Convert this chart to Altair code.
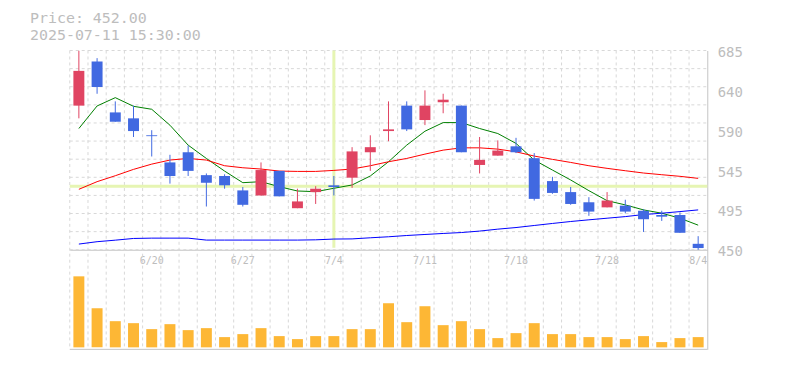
import altair as alt
import pandas as pd
import numpy as np

# ---------------- data ----------------
dates = ["6/16", "6/17", "6/18", "6/19", "6/20", "6/23", "6/24", "6/25", "6/26", "6/27",
         "6/30", "7/1", "7/2", "7/3", "7/4", "7/7", "7/8", "7/9", "7/10", "7/11",
         "7/14", "7/15", "7/16", "7/17", "7/18", "7/22", "7/23", "7/24", "7/25", "7/28",
         "7/29", "7/30", "7/31", "8/1", "8/4"]
opens = [620, 672, 612, 605, 585, 553, 565, 538, 537, 520,
         514, 543, 499, 518, 526, 535, 565, 590, 620, 603,
         624, 620, 550, 561, 572, 558, 531, 518, 506, 500,
         502, 496, 491, 491, 457]
highs = [685, 676, 625, 620, 591, 562, 573, 540, 539, 524,
         553, 543, 522, 525, 537, 571, 585, 625, 625, 638,
         634, 620, 583, 579, 582, 564, 536, 524, 512, 518,
         509, 498, 496, 494, 466]
lows = [605, 634, 601, 583, 560, 528, 537, 501, 522, 501,
        514, 513, 499, 504, 514, 523, 543, 578, 590, 597,
        611, 565, 540, 561, 564, 508, 516, 503, 490, 500,
        493, 471, 484, 470, 450]
closes = [661, 642, 601, 590, 584, 537, 543, 529, 526, 503,
          544, 513, 507, 522, 524, 566, 571, 592, 592, 620,
          627, 565, 556, 567, 565, 510, 517, 504, 495, 508,
          495, 486, 489, 470, 452]
ma5 = [593, 619.6, 629.4, 619.2, 615.7, 596.9, 573.4, 557.7, 542.8, 529.1,
       530.3, 524.4, 519.3, 518.5, 522.5, 526.4, 537.0, 553.8, 573.4, 589.8,
       600.0, 600.0, 593.0, 587.1, 575.4, 555.8, 544.0, 532.3, 519.7, 507.9,
       502.9, 497.0, 493.1, 487.2, 479.0]
ma25 = [521.3, 530.3, 537.3, 544.8, 551.0, 555.8, 557.7, 555.8, 549.1, 546.7,
        545.2, 542.8, 542.4, 542.4, 543.6, 545.2, 549.1, 553.8, 557.7, 562.8,
        567.5, 570.2, 570.2, 568.7, 565.5, 560.5, 556.6, 553.0, 549.1, 546.0,
        543.2, 540.5, 538.5, 536.6, 534.2]
ma75 = [456.7, 459.5, 461.3, 463.3, 463.7, 463.7, 463.7, 461.4, 461.4, 461.4,
        461.4, 461.4, 461.4, 461.7, 462.6, 462.8, 464.1, 465.3, 466.8, 468.0,
        469.2, 470.3, 472.0, 474.3, 476.2, 478.6, 481.0, 483.3, 485.3, 487.2,
        489.1, 491.5, 493.1, 495.0, 497.0]
volume = [713, 393, 263, 243, 183, 233, 173, 193, 103, 133,
          193, 113, 83, 113, 113, 183, 183, 443, 253, 413,
          223, 263, 183, 93, 143, 243, 133, 133, 103, 103,
          83, 113, 53, 93, 103]
tick_dates = ["6/20", "6/27", "7/4", "7/11", "7/18", "7/28", "8/4"]
price_ticks = [450, 497, 544, 591, 638, 685]
header = ["Price: 452.00", "2025-07-11 15:30:00"]
cross_date = ["7/4"]
cross_price = [525]

# ---------------- tables ----------------
df = pd.DataFrame({"date": dates, "open": opens, "high": highs, "low": lows,
                   "close": closes, "volume": volume})
df["dir"] = np.where(df["close"] >= df["open"], "up", "down")
ma_df = pd.DataFrame({"date": dates, "ma5": ma5, "ma25": ma25, "ma75": ma75})
grid_df = pd.DataFrame({"v": np.linspace(price_ticks[0], price_ticks[-1], 12)})

W, H = 640, 300
PRICE_DOMAIN = [332.5, 685]
VOL_DOMAIN = [-20, 2980]
MONO = "DejaVu Sans Mono"
GRAY = "#bdbdbd"
FRAME = "#c4c4c4"
GRID = "#d8d8d8"
UP = "#e04462"
DOWN = "#4169e1"

xscale = alt.Scale(type="band", paddingInner=0, paddingOuter=0)
xaxis = alt.Axis(values=tick_dates, orient="bottom", offset=-100, domain=True,
                 domainColor=FRAME, ticks=False, grid=False, labelAngle=0,
                 labelFont=MONO, labelFontSize=10, labelColor=GRAY,
                 labelPadding=6, title=None)
yscale = alt.Scale(domain=PRICE_DOMAIN, nice=False, zero=False)
yaxis = alt.Axis(values=price_ticks, orient="right", ticks=False, grid=False,
                 domain=True, domainColor=FRAME,
                 labelExpr="format(round(datum.value/5)*5, 'd')",
                 labelFont=MONO, labelFontSize=14, labelColor=GRAY,
                 labelPadding=10, labelOffset=2, title=None)


def X(field="date:O", **kw):
    return alt.X(field, sort=dates, scale=xscale, axis=xaxis, title=None, **kw)


def Yp(field):
    return alt.Y(field, scale=yscale, axis=yaxis, title=None)


vgrid = alt.Chart(df).mark_rule(color=GRID, strokeDash=[3, 3], strokeWidth=1).encode(
    x=X(bandPosition=0), y=alt.value(0), y2=alt.value(H))
hgrid = alt.Chart(grid_df).mark_rule(color=GRID, strokeDash=[3, 3], strokeWidth=1).encode(
    y=Yp("v:Q"), x=alt.value(0), x2=alt.value(W))
cross_v = alt.Chart(pd.DataFrame({"date": cross_date})).mark_rule(
    color="#e6f5b3", strokeWidth=3).encode(x=X(), y=alt.value(0), y2=alt.value(198))
cross_h = alt.Chart(pd.DataFrame({"p": cross_price})).mark_rule(
    color="#e6f5b3", strokeWidth=3).encode(y=Yp("p:Q"), x=alt.value(0), x2=alt.value(W))
frame_bottom = alt.Chart(pd.DataFrame({"a": [0]})).mark_rule(color=FRAME, strokeWidth=1).encode(
    x=alt.value(0), x2=alt.value(W), y=alt.value(H))

line5 = alt.Chart(ma_df).mark_line(strokeWidth=1, color="#008000").encode(x=X(), y=Yp("ma5:Q"))
line25 = alt.Chart(ma_df).mark_line(strokeWidth=1, color="#ff0000").encode(x=X(), y=Yp("ma25:Q"))
line75 = alt.Chart(ma_df).mark_line(strokeWidth=1, color="#0000ff").encode(x=X(), y=Yp("ma75:Q"))

candle_color = alt.condition("datum.close >= datum.open", alt.value(UP), alt.value(DOWN))
wicks = alt.Chart(df).mark_rule(strokeWidth=1, clip=True).encode(
    x=X(), y=Yp("low:Q"), y2="high:Q", color=candle_color)
bodies = alt.Chart(df).mark_bar(size=11).encode(
    x=X(), y=Yp("open:Q"), y2="close:Q", color=candle_color)

head1 = alt.Chart(pd.DataFrame({"t": header[:1]})).mark_text(
    align="left", baseline="middle", font=MONO, fontSize=15, color=GRAY).encode(
    text="t:N", x=alt.value(-40), y=alt.value(-33))
head2 = alt.Chart(pd.DataFrame({"t": header[1:]})).mark_text(
    align="left", baseline="middle", font=MONO, fontSize=15, color=GRAY).encode(
    text="t:N", x=alt.value(-40), y=alt.value(-15.5))

price = alt.layer(vgrid, hgrid, cross_v, cross_h, frame_bottom, line5, line25, line75,
                  wicks, bodies, head1, head2)

vol = alt.Chart(df).mark_bar(size=11, color="#fdb735").encode(
    x=X(),
    y=alt.Y("volume:Q", scale=alt.Scale(domain=VOL_DOMAIN, nice=False, zero=False),
            axis=None, title=None),
    y2=alt.datum(0))

chart = alt.layer(price, vol).resolve_scale(y="independent").properties(
    width=W, height=H,
    autosize=alt.AutoSizeParams(type="none"),
    padding={"left": 62, "top": 42, "right": 70, "bottom": 10},
    background="white",
).configure_view(stroke=None)

chart.save("out.html", embed_options={"renderer": "svg", "actions": False})
